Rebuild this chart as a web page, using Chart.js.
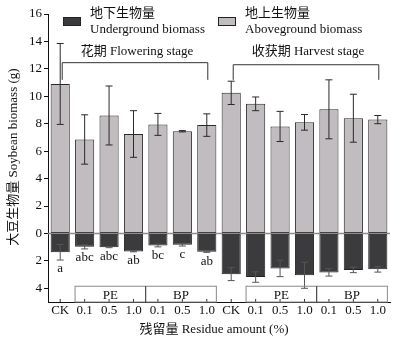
<!DOCTYPE html>
<html>
<head>
<meta charset="utf-8">
<script src="https://cdn.jsdelivr.net/npm/chart.js@4"></script>
<style>
  body { margin: 0; background: #fff; }
  canvas { display: block; }
</style>
</head>
<body>
<canvas id="myChart" width="401" height="344"></canvas>
<script>
// residue levels, two stages of 7 treatments each
const categories = ['CK', '0.1', '0.5', '1.0', '0.1', '0.5', '1.0',
                    'CK', '0.1', '0.5', '1.0', '0.1', '0.5', '1.0'];
const aboveground = [10.9, 6.85, 8.6, 7.25, 7.95, 7.45, 7.9, 10.25, 9.45, 7.8, 8.1, 9.05, 8.4, 8.3];
const aboveErr = [2.95, 1.8, 2.15, 1.7, 0.8, 0.05, 0.82, 0.85, 0.5, 1.1, 0.57, 2.15, 1.75, 0.3];
const underground = [1.37, 0.98, 1.0, 1.31, 0.88, 0.82, 1.33, 2.97, 3.18, 2.55, 3.05, 2.84, 2.66, 2.62];
const underErr = [0.57, 0.15, 0.04, 0.03, 0.1, 0.1, 0.05, 0.47, 0.38, 0.6, 0.95, 0.27, 0.2, 0.2];
const letters = ['a', 'abc', 'abc', 'ab', 'bc', 'c', 'ab'];
const stages = ['花期 Flowering stage', '收获期 Harvest stage'];
const residues = ['PE', 'BP'];
const yTicks = [-4, -2, 0, 2, 4, 6, 8, 10, 12, 14, 16];

const FONT = '"Liberation Serif", "Times New Roman", "Noto Sans CJK SC", serif';
const lightFill = '#c1bcc0';
const darkFill = '#3b3a3c';

const extras = {
    id: 'extras',
    afterDatasetsDraw(chart) {
        const ctx = chart.ctx;
        const x = chart.scales.x;
        const y = chart.scales.y;
        const area = chart.chartArea;
        const bars = chart.getDatasetMeta(0).data;

        ctx.save();
        ctx.font = '13px ' + FONT;
        ctx.textBaseline = 'middle';
        ctx.textAlign = 'center';

        // zero line
        ctx.strokeStyle = '#8c8c8c';
        ctx.lineWidth = 1.5;
        ctx.beginPath();
        ctx.moveTo(area.left, y.getPixelForValue(0));
        ctx.lineTo(area.right, y.getPixelForValue(0));
        ctx.stroke();

        // error bars
        function errBar(px, v, e) {
            const y1 = y.getPixelForValue(v - e);
            const y2 = y.getPixelForValue(v + e);
            ctx.beginPath();
            ctx.moveTo(px, y1); ctx.lineTo(px, y2);
            ctx.moveTo(px - 3.5, y1); ctx.lineTo(px + 3.5, y1);
            ctx.moveTo(px - 3.5, y2); ctx.lineTo(px + 3.5, y2);
            ctx.stroke();
        }
        ctx.lineWidth = 1;
        categories.forEach((c, i) => {
            const px = x.getPixelForValue(i);
            ctx.strokeStyle = '#2a2a2a';
            errBar(px, aboveground[i], aboveErr[i]);
            ctx.strokeStyle = '#555';
            errBar(px, -underground[i], underErr[i]);
        });

        // significance letters below flowering-stage roots
        ctx.fillStyle = '#111';
        letters.forEach((t, i) => {
            const py = y.getPixelForValue(-(underground[i] + underErr[i])) + 9;
            ctx.fillText(t, x.getPixelForValue(i), py);
        });

        // inward ticks on the x axis
        ctx.strokeStyle = '#333';
        ctx.beginPath();
        categories.forEach((c, i) => {
            const px = x.getPixelForValue(i);
            ctx.moveTo(px, area.bottom);
            ctx.lineTo(px, area.bottom - 3);
        });
        ctx.stroke();

        stages.forEach((label, s) => {
            const first = s * 7;
            const last = first + 6;

            // stage bracket
            const xl = x.getPixelForValue(first) + 2;
            const xr = x.getPixelForValue(last) + 1;
            const top = y.getPixelForValue(s === 0 ? 12.45 : 12.3);
            const foot = y.getPixelForValue(11.2);
            ctx.strokeStyle = '#333';
            ctx.beginPath();
            ctx.moveTo(xl, foot); ctx.lineTo(xl, top);
            ctx.lineTo(xr, top); ctx.lineTo(xr, foot);
            ctx.stroke();
            ctx.fillStyle = '#111';
            ctx.fillText(label, (xl + xr) / 2 + 2, 52);

            // PE / BP boxes
            const bl = bars[first + 1].x - bars[first + 1].width / 2;
            const br = bars[last].x + bars[last].width / 2;
            const mid = (bars[first + 3].x + bars[first + 4].x) / 2;
            const bt = y.getPixelForValue(-3.85);
            const bb = area.bottom;
            ctx.strokeStyle = '#8a8a8a';
            ctx.strokeRect(bl, bt, br - bl, bb - bt);
            ctx.strokeStyle = '#222';
            ctx.beginPath();
            ctx.moveTo(mid, bt); ctx.lineTo(mid, bb);
            ctx.stroke();
            ctx.fillText(residues[0], (bl + mid) / 2, (bt + bb) / 2 + 1);
            ctx.fillText(residues[1], (mid + br) / 2, (bt + bb) / 2 + 1);
        });

        // legend
        const legend = [
            { fill: darkFill, x: 63, zh: '地下生物量', en: 'Underground biomass' },
            { fill: lightFill, x: 218, zh: '地上生物量', en: 'Aboveground biomass' }
        ];
        ctx.textAlign = 'left';
        legend.forEach(item => {
            ctx.fillStyle = item.fill;
            ctx.fillRect(item.x, 17, 17, 8);
            ctx.strokeStyle = '#222';
            ctx.strokeRect(item.x + 0.5, 17.5, 17, 8);
            ctx.fillStyle = '#111';
            ctx.fillText(item.zh, item.x + 27, 14);
            ctx.fillText(item.en, item.x + 27, 30);
        });

        // axis titles
        ctx.textAlign = 'center';
        ctx.fillText('残留量 Residue amount (%)', 214, 330);
        ctx.translate(14, 157);
        ctx.rotate(-Math.PI / 2);
        ctx.fillText('大豆生物量 Soybean biomass (g)', 0, 0);
        ctx.restore();
    }
};

const ctx = document.getElementById('myChart');
const myChart = new Chart(ctx, {
    type: 'bar',
    data: {
        labels: categories,
        datasets: [{
            label: '地上生物量 Aboveground biomass',
            data: aboveground,
            backgroundColor: lightFill,
            borderColor: '#2a2a2a',
            borderWidth: 1,
            borderSkipped: false
        }, {
            label: '地下生物量 Underground biomass',
            data: underground.map(v => -v),
            backgroundColor: darkFill,
            borderColor: '#222',
            borderWidth: 1,
            borderSkipped: false
        }]
    },
    options: {
        responsive: false,
        animation: false,
        layout: { padding: { top: 14, right: 11, left: 0, bottom: 0 } },
        datasets: { bar: { barPercentage: 0.8, categoryPercentage: 0.98 } },
        plugins: {
            legend: { display: false },
            tooltip: { enabled: false }
        },
        scales: {
            x: {
                stacked: true,
                grid: { display: false, drawTicks: false },
                border: { display: true, color: '#111', width: 1 },
                ticks: { color: '#111', font: { family: FONT, size: 13 }, padding: 1, maxRotation: 0, autoSkip: false },
                afterFit: scale => { scale.height = 42; }
            },
            y: {
                stacked: true,
                min: -5,
                max: 16,
                grid: { display: true, drawOnChartArea: false, drawTicks: true, tickLength: 4, color: '#111' },
                border: { display: true, color: '#111', width: 1 },
                ticks: {
                    color: '#111',
                    padding: 2,
                    autoSkip: false,
                    font: { family: FONT, size: 13 },
                    callback: v => Math.abs(v)
                },
                afterBuildTicks: scale => {
                    scale.ticks = yTicks.map(v => ({ value: v }));
                },
                afterFit: scale => { scale.width = 48; }
            }
        }
    },
    plugins: [extras]
});
</script>
</body>
</html>
